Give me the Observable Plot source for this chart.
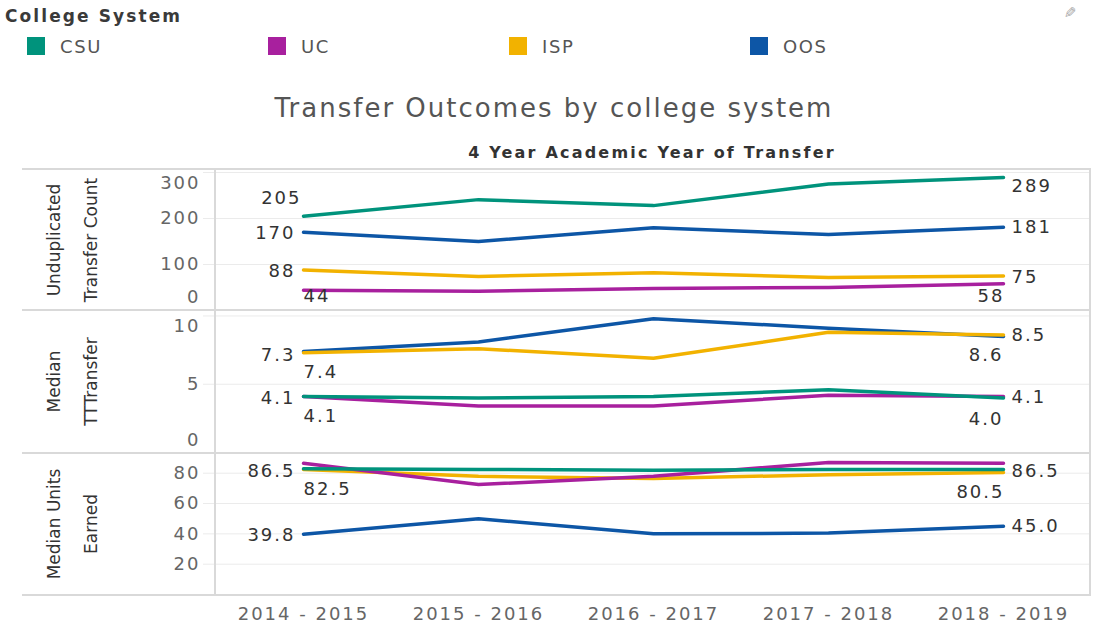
<!DOCTYPE html>
<html>
<head>
<meta charset="utf-8">
<script src="https://cdn.jsdelivr.net/npm/d3@7"></script>
<script src="https://cdn.jsdelivr.net/npm/@observablehq/plot@0.6"></script>
<style>
  body { margin: 0; background: #fff; font-family: "DejaVu Sans", sans-serif; }
  #root { position: relative; width: 1102px; height: 628px; overflow: hidden; background: #fff; }
  .abs { position: absolute; white-space: nowrap; }
  .hline { position: absolute; height: 2px; background: #d9d9d9; }
  .vline { position: absolute; width: 2px; background: #d9d9d9; }
  .panel { position: absolute; left: 0; }
</style>
</head>
<body>
<div id="root"></div>
<script>
// ---------------- data ----------------
const years = ["2014 - 2015", "2015 - 2016", "2016 - 2017", "2017 - 2018", "2018 - 2019"];
const systems = ["CSU", "UC", "ISP", "OOS"];

// Unduplicated Transfer Count
const countCSU = [205, 241, 228, 275, 289];
const countUC  = [44, 42, 48, 50, 58];
const countISP = [88, 74, 82, 72, 75];
const countOOS = [170, 150, 180, 165, 181];

// Median TTTransfer
const timeCSU = [4.1, 4.0, 4.1, 4.6, 4.0];
const timeUC  = [4.1, 3.4, 3.4, 4.2, 4.1];
const timeISP = [7.3, 7.6, 6.9, 8.8, 8.6];
const timeOOS = [7.4, 8.1, 9.8, 9.1, 8.5];

// Median Units Earned
const unitsCSU = [83.0, 82.5, 82.0, 82.5, 82.5];
const unitsUC  = [86.5, 72.5, 78.0, 87.0, 86.5];
const unitsISP = [82.5, 78.0, 76.5, 79.0, 80.5];
const unitsOOS = [39.8, 50.0, 40.0, 40.5, 45.0];

const rowTitles = ["Unduplicated\nTransfer Count", "Median\nTTTransfer", "Median Units\nEarned"];
const legendTitle = "College System";
const chartTitle = "Transfer Outcomes by college system";
const columnTitle = "4 Year Academic Year of Transfer";

// ---------------- styling / layout ----------------
const colors = ["#00937C", "#A8209E", "#F2B200", "#0D56A6"];
const drawOrder = ["OOS", "ISP", "UC", "CSU"];
const root = document.getElementById("root");

function addDiv(cls, css, text) {
  const d = document.createElement("div");
  d.className = cls;
  Object.assign(d.style, css);
  if (text != null) d.textContent = text;
  root.appendChild(d);
  return d;
}

// legend
addDiv("abs", {left: "5px", top: "6px", font: "bold 17px 'DejaVu Sans'", lineHeight: "20px", letterSpacing: "2.1px", color: "#3a3a3a"}, legendTitle);
systems.forEach((s, i) => {
  const left = 27 + i * 241;
  addDiv("abs", {left: left + "px", top: "37px", width: "18px", height: "18px", background: colors[i]});
  addDiv("abs", {left: (left + 33) + "px", top: "37px", font: "18px 'DejaVu Sans'", lineHeight: "20px", letterSpacing: "1.6px", color: "#555"}, s);
});
addDiv("abs", {left: "1064px", top: "4px", font: "15px 'DejaVu Sans'", color: "#aaa", transform: "scaleX(-1)"}, "\u270E");

// titles
addDiv("abs", {left: "0px", width: "1108px", textAlign: "center", top: "93px", font: "26px 'DejaVu Sans'", lineHeight: "30px", letterSpacing: "2px", color: "#555"}, chartTitle);
addDiv("abs", {left: "452px", width: "400px", textAlign: "center", top: "144px", font: "bold 16px 'DejaVu Sans'", lineHeight: "18px", letterSpacing: "2.2px", color: "#333"}, columnTitle);

// panels
const panels = [
  {
    title: rowTitles[0], values: {CSU: countCSU, UC: countUC, ISP: countISP, OOS: countOOS},
    fmt: d3.format("d"), top: 169, height: 141, mb: 0, domain: [0, 306.5],
    grid: [100, 200, 300],
    tickGroups: [{ticks: [100, 200], dy: 0}, {ticks: [300], dy: 11}, {ticks: [0], dy: -13}],
    labels: [
      {s: "CSU", i: 0, anchor: "end", dx: -2, dy: -18},
      {s: "OOS", i: 0, anchor: "end", dx: -8, dy: 1},
      {s: "ISP", i: 0, anchor: "end", dx: -8, dy: 1},
      {s: "UC", i: 0, anchor: "start", dx: 0, dy: 6},
      {s: "CSU", i: 4, anchor: "start", dx: 8, dy: 9},
      {s: "OOS", i: 4, anchor: "start", dx: 8, dy: 0},
      {s: "ISP", i: 4, anchor: "start", dx: 8, dy: 1},
      {s: "UC", i: 4, anchor: "end", dx: 1, dy: 12}
    ]
  },
  {
    title: rowTitles[1], values: {CSU: timeCSU, UC: timeUC, ISP: timeISP, OOS: timeOOS},
    fmt: d3.format(".1f"), top: 310, height: 143, mb: 1, domain: [0, 10.4],
    grid: [5, 10],
    tickGroups: [{ticks: [5], dy: 0}, {ticks: [10], dy: 10}, {ticks: [0], dy: -12}],
    labels: [
      {s: "ISP", i: 0, anchor: "end", dx: -8, dy: 2},
      {s: "OOS", i: 0, anchor: "start", dx: 0, dy: 21},
      {s: "CSU", i: 0, anchor: "end", dx: -8, dy: 2},
      {s: "UC", i: 0, anchor: "start", dx: 0, dy: 20},
      {s: "OOS", i: 4, anchor: "start", dx: 8, dy: -1},
      {s: "ISP", i: 4, anchor: "end", dx: 0, dy: 20},
      {s: "UC", i: 4, anchor: "start", dx: 8, dy: 1},
      {s: "CSU", i: 4, anchor: "end", dx: 0, dy: 21}
    ]
  },
  {
    title: rowTitles[2], values: {CSU: unitsCSU, UC: unitsUC, ISP: unitsISP, OOS: unitsOOS},
    fmt: d3.format(".1f"), top: 453, height: 175, mb: 34, domain: [0, 93],
    grid: [20, 40, 60, 80],
    tickGroups: [{ticks: [20, 40, 60, 80], dy: 0}],
    xAxis: true,
    labels: [
      {s: "UC", i: 0, anchor: "end", dx: -8, dy: 8},
      {s: "ISP", i: 0, anchor: "start", dx: 0, dy: 20},
      {s: "OOS", i: 0, anchor: "end", dx: -8, dy: 1},
      {s: "UC", i: 4, anchor: "start", dx: 8, dy: 8},
      {s: "ISP", i: 4, anchor: "end", dx: 1, dy: 20},
      {s: "OOS", i: 4, anchor: "start", dx: 8, dy: 0}
    ]
  }
];

panels.forEach(p => {
  const rows = drawOrder.flatMap(s => years.map((y, i) => ({year: y, system: s, value: p.values[s][i]})));
  const marks = [
    Plot.gridY({ticks: p.grid, stroke: "#ebebeb", strokeOpacity: 1, insetLeft: -12}),
    ...p.tickGroups.map(g => Plot.axisY({ticks: g.ticks, tickSize: 0, tickPadding: 15, fill: "#666", fontSize: 18, dy: g.dy, label: null})),
    Plot.text([p.title], {text: d => d, frameAnchor: "left", textAnchor: "middle", lineAnchor: "middle", dx: -149, rotate: -90, lineHeight: 2.2, fontSize: 17, fill: "#333"}),
    Plot.line(rows, {x: "year", y: "value", stroke: "system", z: "system", strokeWidth: 3.5, strokeLinejoin: "round", strokeLinecap: "round"}),
    ...p.labels.map(l => Plot.text([{year: years[l.i], value: p.values[l.s][l.i]}], {
      x: "year", y: "value", text: d => p.fmt(d.value), textAnchor: l.anchor, dx: l.dx, dy: l.dy,
      fill: "#333", fontSize: 18
    }))
  ];
  if (p.xAxis) marks.push(Plot.axisX({tickSize: 0, tickPadding: 13, fill: "#666", fontSize: 18, label: null}));
  const svg = Plot.plot({
    width: 1102, height: p.height,
    marginLeft: 215, marginRight: 12, marginTop: 0, marginBottom: p.mb,
    x: {type: "point", domain: years, padding: 0.5, axis: null},
    y: {domain: p.domain, axis: null},
    color: {domain: systems, range: colors},
    style: {fontFamily: "'DejaVu Sans', sans-serif", fontSize: "18px", overflow: "visible", background: "transparent"},
    marks
  });
  svg.style.letterSpacing = "2px";
  svg.querySelectorAll("text").forEach(t => {
    if ((t.getAttribute("transform") || "").includes("rotate")) t.style.letterSpacing = "0px";
  });
  const wrap = addDiv("panel", {top: p.top + "px"});
  wrap.appendChild(svg);
});

// frame lines
[169, 310, 453, 595].forEach(y => addDiv("hline", {left: "22px", top: (y - 1) + "px", width: "1069px"}));
[215, 1090].forEach(x => addDiv("vline", {left: (x - 1) + "px", top: "168px", height: "428px"}));
</script>
</body>
</html>
